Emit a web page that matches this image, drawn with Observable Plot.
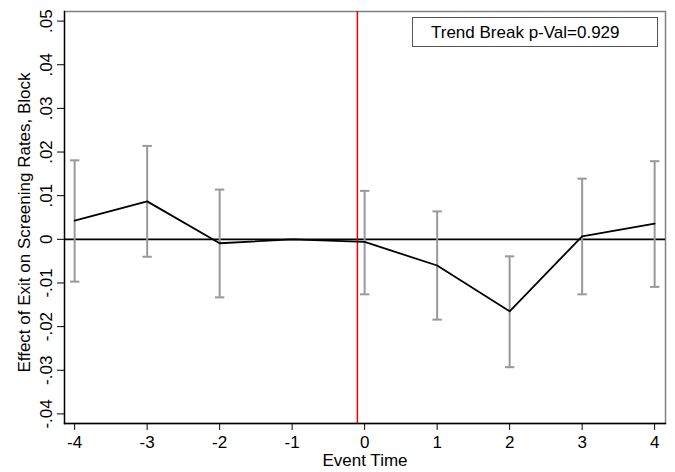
<!DOCTYPE html>
<html>
<head>
<meta charset="utf-8">
<script src="https://cdn.jsdelivr.net/npm/d3@7"></script>
<script src="https://cdn.jsdelivr.net/npm/@observablehq/plot@0.6"></script>
<style>
  body { margin: 0; background: white; }
  #wrap { position: relative; width: 675px; height: 472px; font-family: "Liberation Sans", Arial, sans-serif; }
  #legend { position: absolute; left: 412px; top: 17px; width: 246px; height: 30px; border: 1px solid #555;
            box-sizing: content-box; font-size: 17px; line-height: 30px; padding-left: 18px; box-sizing: border-box; color: #000; }
</style>
</head>
<body>
<div id="wrap"><div id="legend">Trend Break p-Val=0.929</div></div>
<script>
// Event times
const eventTime = [-4, -3, -2, -1, 0, 1, 2, 3, 4];
// Point estimates
const coef = [0.0043, 0.0087, -0.0009, 0, -0.0006, -0.0060, -0.0165, 0.0007, 0.0036];
// Confidence interval bounds (reference period -1 has none)
const ciLow = [-0.0097, -0.0040, -0.0133, null, -0.0126, -0.0184, -0.0293, -0.0126, -0.0109];
const ciHigh = [0.0181, 0.0214, 0.0114, null, 0.0111, 0.0064, -0.0039, 0.0139, 0.0179];
// Treatment break line
const breakAt = [-0.1];
// Axis ticks
const xTicks = [-4, -3, -2, -1, 0, 1, 2, 3, 4];
const xTickLabels = ["-4", "-3", "-2", "-1", "0", "1", "2", "3", "4"];
const yTicks = [0.05, 0.04, 0.03, 0.02, 0.01, 0, -0.01, -0.02, -0.03, -0.04];
const yTickLabels = [".05", ".04", ".03", ".02", ".01", "0", "-.01", "-.02", "-.03", "-.04"];

const data = eventTime.map((t, i) => ({t, coef: coef[i], lo: ciLow[i], hi: ciHigh[i]}));
const bars = data.filter(d => d.lo != null && d.hi != null);

const hline = {
  draw(context, size) {
    const w = Math.sqrt(size / Math.PI);
    context.moveTo(-w, 0);
    context.lineTo(w, 0);
  }
};

const chart = Plot.plot({
  width: 675,
  height: 472,
  marginLeft: 64,
  marginRight: 10,
  marginTop: 11,
  marginBottom: 49,
  x: {domain: [-4.14, 4.15]},
  y: {domain: [-0.0422, 0.0522]},
  style: {fontFamily: "'Liberation Sans', Arial, sans-serif", fontSize: "17px", color: "black", background: "white"},
  marks: [
    Plot.frame({stroke: "#808080", strokeWidth: 1.5}),
    Plot.ruleY([0], {stroke: "black", strokeWidth: 1.7}),
    Plot.ruleX(breakAt, {stroke: "#ee0000", strokeWidth: 1.5}),
    Plot.ruleX(bars, {x: "t", y1: "lo", y2: "hi", stroke: "#999", strokeWidth: 2}),
    Plot.dot(bars, {x: "t", y: "lo", symbol: hline, r: 4.7, stroke: "#999", strokeWidth: 2, fill: "none"}),
    Plot.dot(bars, {x: "t", y: "hi", symbol: hline, r: 4.7, stroke: "#999", strokeWidth: 2, fill: "none"}),
    Plot.line(data, {x: "t", y: "coef", stroke: "black", strokeWidth: 1.8}),
    Plot.frame({anchor: "left", stroke: "black", strokeWidth: 1.3}),
    Plot.frame({anchor: "bottom", stroke: "black", strokeWidth: 1.3}),
    Plot.axisX({ticks: xTicks, tickSize: 7, tickPadding: 5, tickFormat: (d) => xTickLabels[xTicks.indexOf(d)], label: null, fontSize: 17}),
    Plot.axisY({ticks: yTicks, tickSize: 7, tickFormat: () => "", label: null}),
    Plot.text(yTicks, {y: (d) => d, text: (d, i) => yTickLabels[i], frameAnchor: "left", dx: -18, rotate: -90, textAnchor: "middle", lineAnchor: "middle", fontSize: 17}),
    Plot.text(["Effect of Exit on Screening Rates, Block"], {text: (d) => d, frameAnchor: "left", dx: -40, dy: 5, rotate: -90, textAnchor: "middle", lineAnchor: "middle", fontSize: 17}),
    Plot.text(["Event Time"], {text: (d) => d, frameAnchor: "bottom", dy: 37, lineAnchor: "middle", fontSize: 17})
  ]
});
document.getElementById("wrap").prepend(chart);
</script>
</body>
</html>
